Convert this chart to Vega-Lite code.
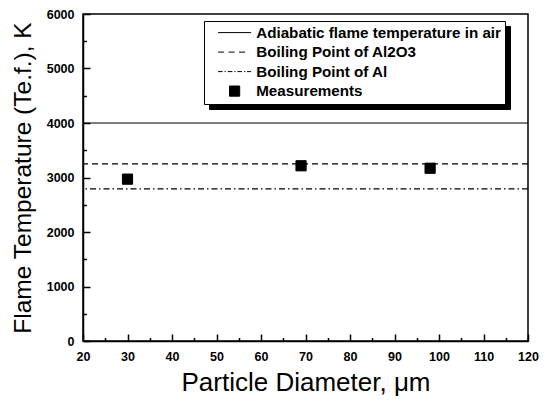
{
  "$schema": "https://vega.github.io/schema/vega-lite/v6.json",
  "width": 445,
  "height": 327,
  "autosize": "none",
  "padding": {"left": 83, "top": 14, "right": 18, "bottom": 61},
  "config": {
    "view": {"stroke": "#000", "strokeWidth": 1.5},
    "font": "Liberation Sans, Arial, sans-serif",
    "axis": {
      "grid": false,
      "domainColor": "#000",
      "domainWidth": 1.5,
      "tickColor": "#000",
      "tickWidth": 1.5,
      "labelColor": "#000",
      "labelFont": "Liberation Sans, Arial, sans-serif",
      "labelFontWeight": "bold",
      "labelFontSize": 12.5,
      "labelFlush": false,
      "labelOverlap": false,
      "titleFont": "Liberation Sans, Arial, sans-serif",
      "titleFontWeight": "normal",
      "titleFontSize": 26,
      "titleColor": "#000"
    },
    "legend": {
      "orient": "none",
      "title": null,
      "strokeColor": "#000",
      "padding": 4,
      "rowPadding": 3.5,
      "symbolOffset": 19,
      "labelOffset": 14,
      "labelFont": "Liberation Sans, Arial, sans-serif",
      "labelFontWeight": "bold",
      "labelFontSize": 15.2,
      "labelColor": "#000",
      "labelLimit": 400,
      "symbolSize": 144,
      "symbolOpacity": 1,
      "symbolStrokeWidth": 1
    }
  },
  "datasets": {
    "lines": [
      {"t": 4000, "series": "Adiabatic flame temperature in air"},
      {"t": 3250, "series": "Boiling Point of Al2O3"},
      {"t": 2792, "series": "Boiling Point of Al"}
    ],
    "measurements": [
      {"d": 30, "t": 2970, "series": "Measurements"},
      {"d": 69, "t": 3215, "series": "Measurements"},
      {"d": 98, "t": 3170, "series": "Measurements"}
    ]
  },
  "layer": [
    {
      "data": {"name": "lines"},
      "mark": {"type": "rule", "color": "#000", "strokeWidth": 1.2},
      "encoding": {
        "y": {
          "field": "t",
          "type": "quantitative",
          "scale": {"domain": [0, 6000]},
          "axis": {
            "title": "Flame Temperature (Te.f.), K",
            "titleFontSize": 24.5,
            "values": [0, 500, 1000, 1500, 2000, 2500, 3000, 3500, 4000, 4500, 5000, 5500, 6000],
            "labelExpr": "datum.value % 1000 === 0 ? datum.label : ''",
            "format": "d",
            "tickSize": {"condition": {"test": "datum.value % 1000 === 0", "value": -7}, "value": -3.5},
            "labelPadding": 16,
            "titlePadding": 11
          }
        },
        "strokeDash": {
          "field": "series",
          "type": "nominal",
          "scale": {
            "domain": ["Adiabatic flame temperature in air", "Boiling Point of Al2O3", "Boiling Point of Al"],
            "range": [[1, 0], [6, 4], [6, 3, 1.5, 3]]
          },
          "legend": null
        }
      }
    },
    {
      "data": {"name": "measurements"},
      "mark": {"type": "point", "filled": false, "fill": "#000", "stroke": "#000", "strokeWidth": 1, "opacity": 0, "size": 144},
      "encoding": {
        "x": {
          "field": "d",
          "type": "quantitative",
          "scale": {"domain": [20, 120]},
          "axis": {
            "title": "Particle Diameter, μm",
            "values": [20, 25, 30, 35, 40, 45, 50, 55, 60, 65, 70, 75, 80, 85, 90, 95, 100, 105, 110, 115, 120],
            "labelExpr": "datum.value % 10 === 0 ? datum.label : ''",
            "tickSize": {"condition": {"test": "datum.value % 10 === 0", "value": -7}, "value": -3.5},
            "labelPadding": 16,
            "titlePadding": 3
          }
        },
        "y": {
          "field": "t",
          "type": "quantitative",
          "scale": {"domain": [0, 6000]},
          "axis": {
            "title": "Flame Temperature (Te.f.), K",
            "titleFontSize": 24.5,
            "values": [0, 500, 1000, 1500, 2000, 2500, 3000, 3500, 4000, 4500, 5000, 5500, 6000],
            "labelExpr": "datum.value % 1000 === 0 ? datum.label : ''",
            "format": "d",
            "tickSize": {"condition": {"test": "datum.value % 1000 === 0", "value": -7}, "value": -3.5},
            "labelPadding": 16,
            "titlePadding": 11
          }
        },
        "shape": {
          "field": "series",
          "type": "nominal",
          "scale": {
            "domain": ["Adiabatic flame temperature in air", "Boiling Point of Al2O3", "Boiling Point of Al", "Measurements"],
            "range": ["M-2.75,0H2.75", "M-2.75,0H-1.75M-1,0H0M0.75,0H1.75", "M-2.75,0H-2M-1.67,0H-1.47M-1.13,0H-0.38M-0.05,0H0.15M0.48,0H1.23M1.57,0H1.77M2.08,0H2.75", "M-0.85,-0.85H0.85V0.85H-0.85Z"]
          },
          "legend": {
            "legendX": 126,
            "legendY": 12,
            "fillColor": "#000",
            "labelColor": "#000",
            "encode": {"symbols": {"update": {"fill": {"value": "#000"}, "stroke": {"value": "#000"}, "opacity": {"value": 1}}}}
          }
        }
      }
    },
    {
      "data": {"name": "measurements"},
      "mark": {"type": "point", "filled": false, "fill": "#000", "stroke": "#000", "strokeWidth": 1, "opacity": 1, "size": 144},
      "encoding": {
        "x": {
          "field": "d",
          "type": "quantitative",
          "scale": {"domain": [20, 120]},
          "axis": {
            "title": "Particle Diameter, μm",
            "values": [20, 25, 30, 35, 40, 45, 50, 55, 60, 65, 70, 75, 80, 85, 90, 95, 100, 105, 110, 115, 120],
            "labelExpr": "datum.value % 10 === 0 ? datum.label : ''",
            "tickSize": {"condition": {"test": "datum.value % 10 === 0", "value": -7}, "value": -3.5},
            "labelPadding": 16,
            "titlePadding": 3
          }
        },
        "y": {
          "field": "t",
          "type": "quantitative",
          "scale": {"domain": [0, 6000]},
          "axis": {
            "title": "Flame Temperature (Te.f.), K",
            "titleFontSize": 24.5,
            "values": [0, 500, 1000, 1500, 2000, 2500, 3000, 3500, 4000, 4500, 5000, 5500, 6000],
            "labelExpr": "datum.value % 1000 === 0 ? datum.label : ''",
            "format": "d",
            "tickSize": {"condition": {"test": "datum.value % 1000 === 0", "value": -7}, "value": -3.5},
            "labelPadding": 16,
            "titlePadding": 11
          }
        },
        "shape": {
          "field": "series",
          "type": "nominal",
          "scale": {
            "domain": ["Adiabatic flame temperature in air", "Boiling Point of Al2O3", "Boiling Point of Al", "Measurements"],
            "range": ["M-2.75,0H2.75", "M-2.75,0H-1.75M-1,0H0M0.75,0H1.75", "M-2.75,0H-2M-1.67,0H-1.47M-1.13,0H-0.38M-0.05,0H0.15M0.48,0H1.23M1.57,0H1.77M2.08,0H2.75", "M-0.85,-0.85H0.85V0.85H-0.85Z"]
          },
          "legend": {
            "legendX": 121,
            "legendY": 7,
            "fillColor": "#fff",
            "encode": {"symbols": {"update": {"fill": {"value": "#000"}, "stroke": {"value": "#000"}, "opacity": {"value": 1}}}}
          }
        }
      }
    }
  ],
  "resolve": {"scale": {"shape": "independent"}}
}
